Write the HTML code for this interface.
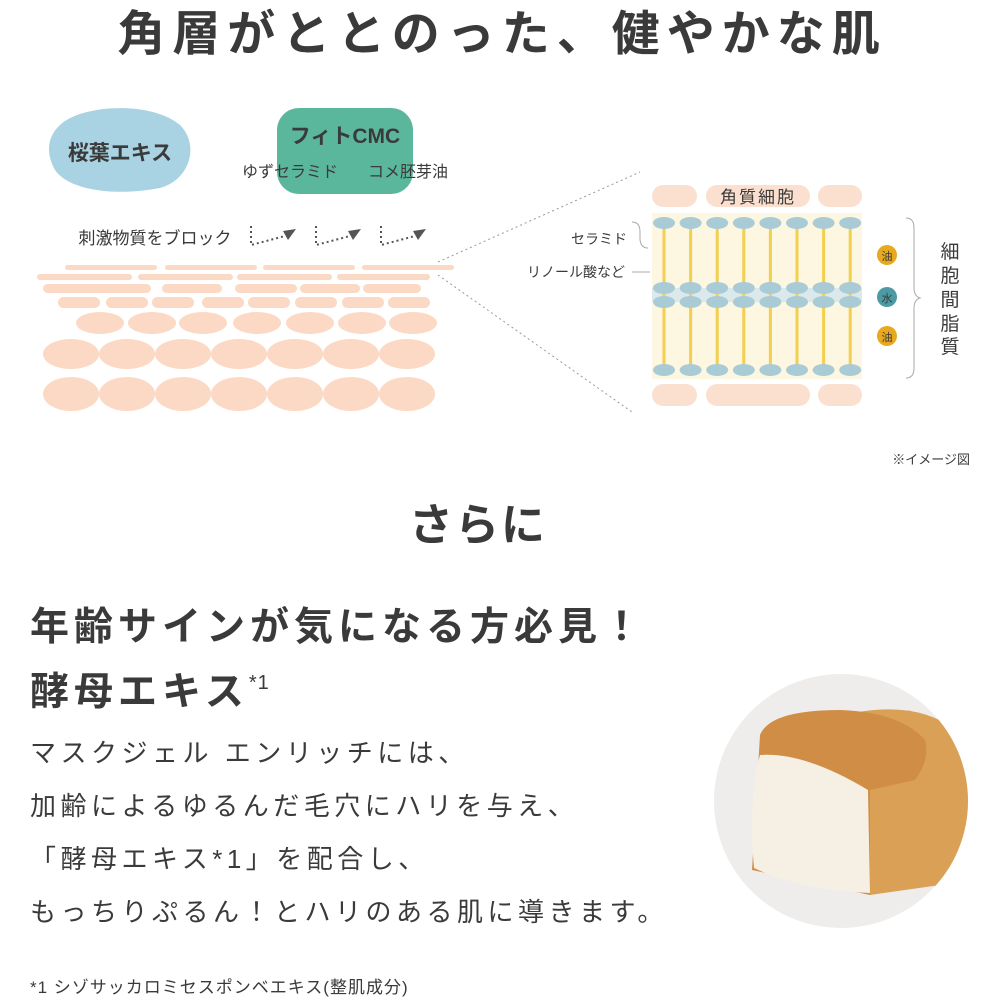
<!DOCTYPE html>
<html><head><meta charset="utf-8"><style>
html,body{margin:0;padding:0;background:#fff}
svg{display:block}
text{font-family:"Liberation Sans","Noto Sans CJK JP",sans-serif;fill:#3a3a3a}
</style></head><body>
<svg width="1000" height="1000" viewBox="0 0 1000 1000" xmlns="http://www.w3.org/2000/svg">
<text x="502" y="50" text-anchor="middle" font-size="48" font-weight="bold" letter-spacing="7">角層がととのった、健やかな肌</text>
<path d="M60,125 C80,105 150,100 180,125 C200,145 190,180 160,188 C120,196 70,192 55,170 C45,152 48,136 60,125Z" fill="#a9d3e3"/>
<text x="120" y="160" text-anchor="middle" font-size="21" font-weight="bold" fill="#2f3e44">桜葉エキス</text>
<rect x="277" y="108" width="136" height="86" rx="22" fill="#5bb79c"/>
<text x="345" y="143" text-anchor="middle" font-size="21" font-weight="bold" fill="#263d36">フィトCMC</text>
<text x="290" y="177" text-anchor="middle" font-size="16">ゆずセラミド</text>
<text x="408" y="177" text-anchor="middle" font-size="16">コメ胚芽油</text>
<text x="155" y="244" text-anchor="middle" font-size="17">刺激物質をブロック</text>
<g stroke="#555" stroke-width="2" stroke-dasharray="2,3" fill="none">
<path d="M251,226 V245 L285,236"/><path d="M316,226 V245 L350,236"/><path d="M381,226 V245 L415,236"/>
</g>
<g fill="#555"><path d="M283,231 L296,229 L288,240Z"/><path d="M348,231 L361,229 L353,240Z"/><path d="M413,231 L426,229 L418,240Z"/></g>
<g fill="#fbd9c4">
<rect x="65" y="265" width="92" height="5" rx="2.5"/><rect x="165" y="265" width="92" height="5" rx="2.5"/><rect x="263" y="265" width="92" height="5" rx="2.5"/><rect x="362" y="265" width="92" height="5" rx="2.5"/>
<rect x="37" y="274" width="95" height="6" rx="3"/><rect x="138" y="274" width="95" height="6" rx="3"/><rect x="237" y="274" width="95" height="6" rx="3"/><rect x="337" y="274" width="93" height="6" rx="3"/>
<rect x="43" y="284" width="108" height="9" rx="4.5"/><rect x="162" y="284" width="60" height="9" rx="4.5"/><rect x="235" y="284" width="62" height="9" rx="4.5"/><rect x="300" y="284" width="60" height="9" rx="4.5"/><rect x="363" y="284" width="58" height="9" rx="4.5"/>
<rect x="58" y="297" width="42" height="11" rx="5.5"/><rect x="106" y="297" width="42" height="11" rx="5.5"/><rect x="152" y="297" width="42" height="11" rx="5.5"/><rect x="202" y="297" width="42" height="11" rx="5.5"/><rect x="248" y="297" width="42" height="11" rx="5.5"/><rect x="295" y="297" width="42" height="11" rx="5.5"/><rect x="342" y="297" width="42" height="11" rx="5.5"/><rect x="388" y="297" width="42" height="11" rx="5.5"/>
</g>
<g fill="#fbd9c4">
<ellipse cx="100" cy="323" rx="24" ry="11"/><ellipse cx="152" cy="323" rx="24" ry="11"/><ellipse cx="203" cy="323" rx="24" ry="11"/><ellipse cx="257" cy="323" rx="24" ry="11"/><ellipse cx="310" cy="323" rx="24" ry="11"/><ellipse cx="362" cy="323" rx="24" ry="11"/><ellipse cx="413" cy="323" rx="24" ry="11"/>
<ellipse cx="71" cy="354" rx="28" ry="15"/><ellipse cx="127" cy="354" rx="28" ry="15"/><ellipse cx="183" cy="354" rx="28" ry="15"/><ellipse cx="239" cy="354" rx="28" ry="15"/><ellipse cx="295" cy="354" rx="28" ry="15"/><ellipse cx="351" cy="354" rx="28" ry="15"/><ellipse cx="407" cy="354" rx="28" ry="15"/>
<ellipse cx="71" cy="394" rx="28" ry="17"/><ellipse cx="127" cy="394" rx="28" ry="17"/><ellipse cx="183" cy="394" rx="28" ry="17"/><ellipse cx="239" cy="394" rx="28" ry="17"/><ellipse cx="295" cy="394" rx="28" ry="17"/><ellipse cx="351" cy="394" rx="28" ry="17"/><ellipse cx="407" cy="394" rx="28" ry="17"/>
</g>
<g stroke="#999" stroke-width="1" stroke-dasharray="2,3" fill="none">
<path d="M438,262 L640,172"/><path d="M438,275 L632,412"/>
</g>
<rect x="652" y="213" width="210" height="166" fill="#fdf6e0"/>
<rect x="652" y="185" width="45" height="22" rx="11" fill="#fbe0cf"/>
<rect x="706" y="185" width="104" height="22" rx="11" fill="#fbe0cf"/>
<rect x="818" y="185" width="44" height="22" rx="11" fill="#fbe0cf"/>
<text x="758" y="203" text-anchor="middle" font-size="17" letter-spacing="2">角質細胞</text>
<rect x="652" y="384" width="45" height="22" rx="11" fill="#fbe0cf"/>
<rect x="706" y="384" width="104" height="22" rx="11" fill="#fbe0cf"/>
<rect x="818" y="384" width="44" height="22" rx="11" fill="#fbe0cf"/>
<rect x="652" y="288" width="210" height="14" fill="#dbe9ec"/>
<g id="col">
<rect x="662.5" y="223" width="3" height="147" fill="#f2cf4e"/>
<ellipse cx="664" cy="223" rx="11" ry="6" fill="#a9cbd6"/>
<ellipse cx="664" cy="288" rx="11" ry="6" fill="#a9cbd6"/>
<ellipse cx="664" cy="302" rx="11" ry="6" fill="#a9cbd6"/>
<ellipse cx="664" cy="370" rx="11" ry="6" fill="#a9cbd6"/>
</g>
<use href="#col" x="26.6"/><use href="#col" x="53.2"/><use href="#col" x="79.8"/><use href="#col" x="106.4"/><use href="#col" x="133"/><use href="#col" x="159.6"/><use href="#col" x="186.2"/>
<text x="627" y="244" text-anchor="end" font-size="14">セラミド</text>
<text x="625" y="277" text-anchor="end" font-size="14">リノール酸など</text>
<path d="M632,222 Q640,222 640,232 L640,238 Q640,248 648,248" stroke="#aaa" fill="none"/>
<line x1="632" y1="272" x2="650" y2="272" stroke="#aaa"/>
<circle cx="887" cy="255" r="10" fill="#e8a91f"/><text x="887" y="260" text-anchor="middle" font-size="11" fill="#fff">油</text>
<circle cx="887" cy="297" r="10" fill="#4d9aa3"/><text x="887" y="302" text-anchor="middle" font-size="11" fill="#fff">水</text>
<circle cx="887" cy="336" r="10" fill="#e8a91f"/><text x="887" y="341" text-anchor="middle" font-size="11" fill="#fff">油</text>
<path d="M906,218 Q914,218 914,228 L914,288 Q914,296 920,298 Q914,300 914,308 L914,368 Q914,378 906,378" stroke="#aaa" fill="none"/>
<g font-size="19" text-anchor="middle"><text x="950" y="258">細</text><text x="950" y="282">胞</text><text x="950" y="306">間</text><text x="950" y="330">脂</text><text x="950" y="353">質</text></g>
<text x="970" y="464" text-anchor="end" font-size="13">※イメージ図</text>
<text x="478" y="540" text-anchor="middle" font-size="44" font-weight="bold" letter-spacing="2">さらに</text>
<text x="30" y="640" font-size="39" font-weight="bold" letter-spacing="5">年齢サインが気になる方必見！</text>
<text x="30" y="705" font-size="39" font-weight="bold" letter-spacing="5">酵母エキス<tspan font-size="20" font-weight="normal" dy="-16" letter-spacing="1">*1</tspan></text>
<g font-size="26" letter-spacing="4.5">
<text x="30" y="762">マスクジェル エンリッチには、</text>
<text x="30" y="815">加齢によるゆるんだ毛穴にハリを与え、</text>
<text x="30" y="868">「酵母エキス*1」を配合し、</text>
<text x="30" y="921">もっちりぷるん！とハリのある肌に導きます。</text>
</g>
<text x="30" y="993" font-size="17" letter-spacing="1">*1 シゾサッカロミセスポンベエキス(整肌成分)</text>
<defs><clipPath id="cc"><circle cx="841" cy="801" r="127"/></clipPath></defs>
<circle cx="841" cy="801" r="127" fill="#eeedec"/>
<g clip-path="url(#cc)">
<path d="M858,712 Q920,702 955,730 L975,770 L975,880 L870,895 Z" fill="#d9a056"/>
<path d="M760,735 Q770,710 840,710 Q900,712 925,740 Q930,760 915,780 L870,790 L870,895 L752,870 Z" fill="#cf8d45"/>
<path d="M760,755 Q805,752 868,790 L870,893 Q800,890 754,868 Q748,800 760,755 Z" fill="#f6efe4"/>
</g>
</svg>
</body></html>
